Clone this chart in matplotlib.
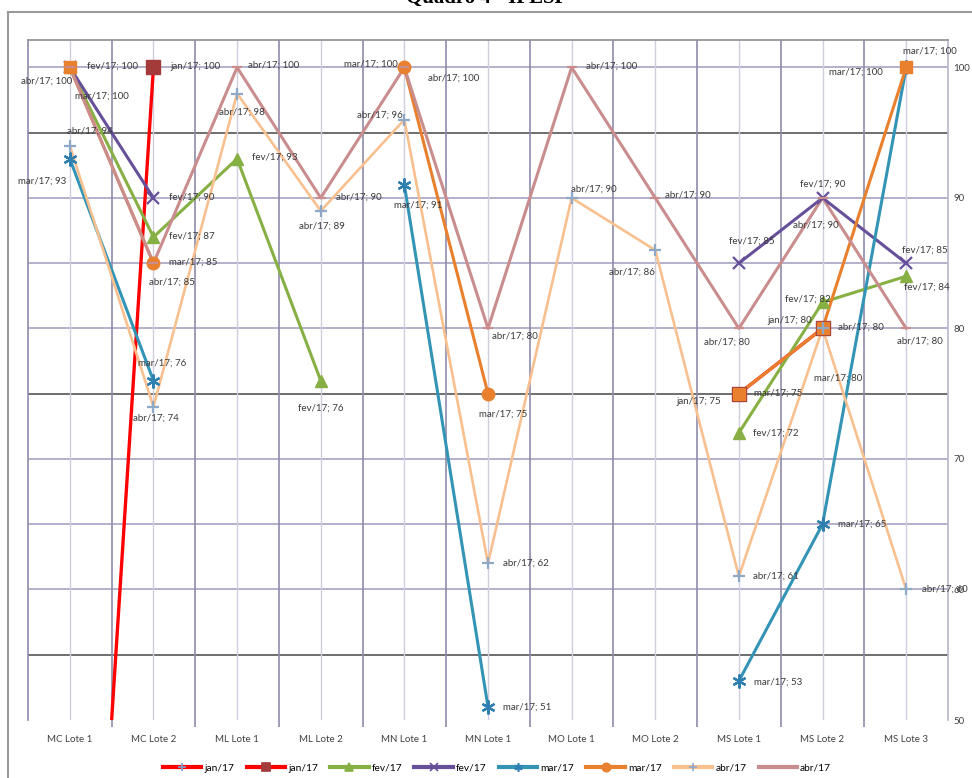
import numpy as np
import matplotlib
matplotlib.use("Agg")
from matplotlib import pyplot as plt
from matplotlib.lines import Line2D

plt.rcParams['font.family'] = ['Lato', 'DejaVu Sans']

nan = np.nan
categories = ['MC Lote 1', 'MC Lote 2', 'ML Lote 1', 'ML Lote 2', 'MN Lote 1', 'MN Lote 1',
              'MO Lote 1', 'MO Lote 2', 'MS Lote 1', 'MS Lote 2', 'MS Lote 3']

# one list per series, nan = no value
jan_a = [0, 100, nan, nan, nan, nan, nan, nan, nan, nan, nan]
jan_b = [nan, 100, nan, nan, nan, nan, nan, nan, 75, 80, nan]
fev_a = [100, 87, 93, 76, nan, nan, nan, nan, 72, 82, 84]
fev_b = [100, 90, nan, nan, nan, nan, nan, nan, 85, 90, 85]
mar_a = [93, 76, nan, nan, 91, 51, nan, nan, 53, 65, 100]
mar_b = [100, 85, nan, nan, 100, 75, nan, nan, 75, 80, 100]
abr_a = [94, 74, 98, 89, 96, 62, 90, 86, 61, 80, 60]
abr_b = [100, 85, 100, 90, 100, 80, 100, 90, 80, 90, 80]

series_names = ['jan/17', 'jan/17', 'fev/17', 'fev/17', 'mar/17', 'mar/17', 'abr/17', 'abr/17']
series_vals = [jan_a, jan_b, fev_a, fev_b, mar_a, mar_b, abr_a, abr_b]

# styles
line_cols = ['#FF0000', '#FF0000', '#86B043', '#66509A', '#3494B5', '#E8802E', '#F9C08F', '#C98D8D']
mark_cols = ['#7F9FCB', '#A33B3B', '#86B043', '#66509A', '#2F7FB0', '#E8802E', '#8EA9C8', '#C98D8D']
markers = ['+', 's', '^', 'x', (6, 2, 0), 'o', '+', '_']
msizes = [8, 10, 8, 9, 10, 9, 9, 7]
lwidths = [2.4, 2.4, 2.2, 2.2, 2.2, 2.2, 1.9, 2.2]
mar_b_marks = ['s', 'o', '', '', 'o', 'o', '', '', 's', 's', 's']

# data labels: (series index, category index, dx px, dy px down)
labels = [
    (2, 0, 43, -1), (7, 0, -23, 14), (5, 0, 32, 29), (4, 0, -28, 22), (6, 0, 20, -15),
    (1, 1, 42, -1), (3, 1, 38, -1), (2, 1, 38, -1), (5, 1, 40, -1), (7, 1, 18, 19),
    (4, 1, 9, -17), (6, 1, 2, 11),
    (7, 2, 37, -2), (6, 2, 5, 19), (2, 2, 38, -2),
    (7, 3, 38, -1), (6, 3, 1, 15), (2, 3, 0, 28),
    (5, 4, -33, -3), (7, 4, 49, 11), (6, 4, -24, -4), (4, 4, 14, 20),
    (7, 5, 27, 8), (5, 5, 15, 20), (6, 5, 38, 0), (4, 5, 39, 0),
    (7, 6, 40, -1), (6, 6, 22, -9),
    (7, 7, 33, -3), (6, 7, -23, 22),
    (3, 8, 13, -22), (7, 8, -12, 14), (1, 8, -40, 8), (5, 8, 39, -1), (2, 8, 37, 0),
    (6, 8, 37, 0), (4, 8, 39, 1),
    (3, 9, 0, -14), (7, 9, -7, 27), (2, 9, -15, -3), (1, 9, -33, -8), (6, 9, 38, -1),
    (5, 9, 16, 50), (4, 9, 40, 0),
    (4, 10, 24, -16), (5, 10, -50, 5), (3, 10, 19, -13), (2, 10, 21, 11),
    (7, 10, 14, 13), (6, 10, 39, 0),
]

W, H = 972, 778
fig = plt.figure(figsize=(W / 100, H / 100), dpi=100)
ax = fig.add_axes([28 / W, 1 - 720 / H, 920 / W, 680 / H])

x = np.arange(len(categories))
ax.set_xlim(-0.5, len(categories) - 0.5)
ax.set_ylim(50, 102.1)

# grid
for yv in range(55, 101, 5):
    dark = yv in (55, 75, 95)
    ax.axhline(yv, color='#555555' if dark else '#A6A3C4', lw=1.2, zorder=0)
for xv in x:
    ax.axvline(xv, color='#CFCEDF', lw=1.0, zorder=0)
for xv in x[:-1] + 0.5:
    ax.axvline(xv, color='#8E8BAA', lw=1.2, zorder=0)

# lines
for i, vals in enumerate(series_vals):
    ax.plot(x, vals, color=line_cols[i], lw=lwidths[i], zorder=2 + i * 0.1,
            solid_capstyle='round')

# markers
for i, vals in enumerate(series_vals):
    for j, v in enumerate(vals):
        if np.isnan(v):
            continue
        m = markers[i]
        if i == 5:
            m = mar_b_marks[j]
        ax.plot(x[j], v, marker=m, ms=msizes[i], color=mark_cols[i],
                mew=1.6 if m in ('+', 'x', '_') or isinstance(m, tuple) else 1,
                mec=mark_cols[i], zorder=4 + i * 0.1, clip_on=True)

# data labels
for si, ci, dx, dy in labels:
    v = series_vals[si][ci]
    ax.annotate(f'{series_names[si]}; {v:g}', (x[ci], v), xytext=(dx, -dy),
                textcoords='offset pixels', ha='center', va='center',
                fontsize=7, color='#3A3A3A', zorder=6)

# axes
ax.set_xticks(x)
ax.set_xticklabels(categories, fontsize=7, color='#404040')
ax.set_xticks(x[:-1] + 0.5, minor=True)
ax.tick_params(axis='x', which='major', length=0, pad=11)
ax.tick_params(axis='x', which='minor', length=5, color='#8E8BAA', width=1.2)
ax.yaxis.tick_right()
ax.set_yticks([50, 60, 70, 80, 90, 100])
ax.tick_params(axis='y', length=0, pad=4, labelsize=7, labelcolor='#404040')
ax.spines['bottom'].set_visible(False)
ax.spines['left'].set_color('#8E8BAA')
ax.spines['right'].set_color('#B8B6CC')
ax.spines['top'].set_color('#8E8E8E')
for s in ax.spines.values():
    s.set_linewidth(1.2)

# legend
handles = [Line2D([], [], color=line_cols[i], lw=3, marker=markers[i], ms=6,
                  mfc=mark_cols[i], mec=mark_cols[i], mew=1.2)
           for i in range(len(series_names))]
fig.legend(handles, series_names, loc='center', bbox_to_anchor=(497 / W, 1 - 768 / H),
           ncol=8, frameon=False, fontsize=7.3, handlelength=3.8, handletextpad=0.3,
           columnspacing=1.2)

# chart frame + clipped title
fig.add_artist(Line2D([8 / W, 8 / W], [0, 1 - 12 / H], transform=fig.transFigure,
                      color='#9A9A9A', lw=1.5))
fig.add_artist(Line2D([8 / W, 1], [1 - 12 / H, 1 - 12 / H], transform=fig.transFigure,
                      color='#9A9A9A', lw=1.5))
fig.text(487 / W, 1 - 3 / H, 'Quadro 4 - IPESP', ha='center', va='baseline',
         fontsize=15, fontweight='bold', family='Liberation Serif')

fig.savefig('out.png', dpi=100)
